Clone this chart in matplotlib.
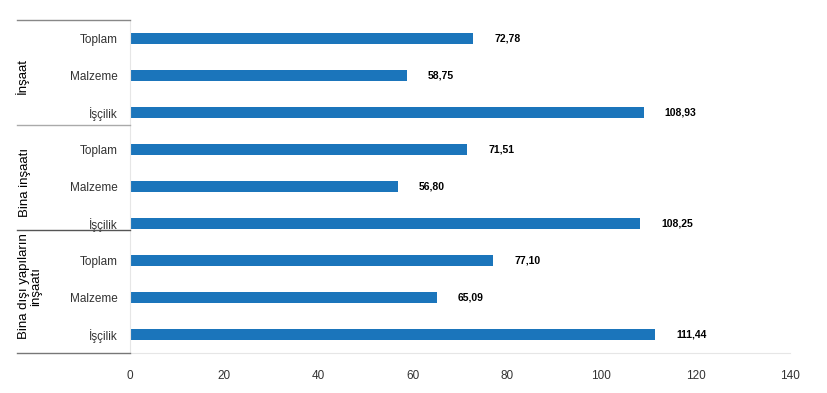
import numpy as np
import matplotlib.pyplot as plt

plt.rcParams['font.family'] = ['Liberation Sans', 'DejaVu Sans']

# data
rows = ['Toplam', 'Malzeme', 'İşçilik',
        'Toplam', 'Malzeme', 'İşçilik',
        'Toplam', 'Malzeme', 'İşçilik']
values = [72.78, 58.75, 108.93,
          71.51, 56.80, 108.25,
          77.10, 65.09, 111.44]
groups = ['İnşaat', 'Bina inşaatı', 'Bina dışı yapıların\ninşaatı']

bar_color = '#1b75bb'

fig = plt.figure(figsize=(8.28, 3.93), dpi=100)
ax = fig.add_axes([130 / 828, 1 - 353 / 393, 660 / 828, 333 / 393])

y = np.arange(len(rows))
ax.barh(y, values, height=0.3, color=bar_color)
ax.set_ylim(len(rows) - 0.5, -0.5)
ax.set_xlim(0, 140)
ax.set_xticks(np.arange(0, 141, 20))
ax.set_yticks(y)
ax.set_yticklabels(rows)

for yi, v in zip(y, values):
    ax.annotate(f'{v:.2f}'.replace('.', ','), (v, yi), xytext=(21, 0),
                textcoords='offset pixels', ha='left', va='center',
                fontsize=7.5, fontweight='bold', color='black')

ax.tick_params(axis='y', length=0, pad=9, labelsize=8.5, labelcolor='#333333')
ax.tick_params(axis='x', length=0, pad=12, labelsize=8.5, labelcolor='#333333')
for s in ['top', 'right']:
    ax.spines[s].set_visible(False)
ax.spines['left'].set_color('#e6e6e6')
ax.spines['bottom'].set_color('#e6e6e6')

# group separators and labels on the left
x0, x1 = 17 / 828, 130 / 828
def fig_y(d):
    return 1 - (20 + (d + 0.5) * 37) / 393

seps = [-0.5, 2.34, 5.18, 8.5]
sep_colors = ['#888888', '#aaaaaa', '#555555', '#777777']
for s, c in zip(seps, sep_colors):
    fig.add_artist(plt.Line2D([x0, x1], [fig_y(s), fig_y(s)], color=c, lw=1))

label_pos = [(22, 1.0), (25, 3.9), (30, 6.7)]
for g, (px, d) in zip(groups, label_pos):
    fig.text(px / 828, fig_y(d), g, rotation=90, ha='center', va='center',
             fontsize=9.5, color='black', linespacing=0.95)

fig.savefig('out.png', dpi=100)
